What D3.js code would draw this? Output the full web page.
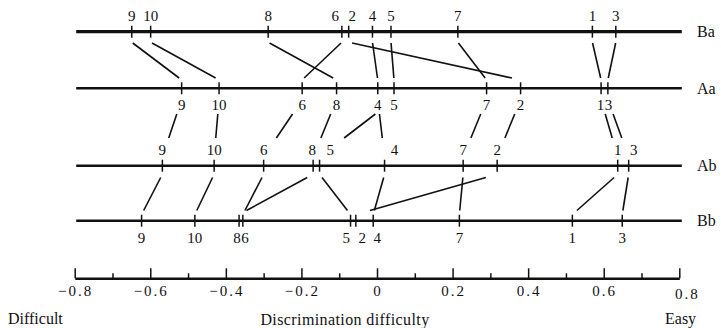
<!DOCTYPE html>
<html>
<head>
<meta charset="utf-8">
<script src="https://cdn.jsdelivr.net/npm/d3@7/dist/d3.min.js"></script>
<style>
  html, body { margin: 0; padding: 0; background: #fff; }
  svg { display: block; }
</style>
</head>
<body>
<svg id="chart" width="721" height="328"></svg>
<script>
// ---------------- data ----------------
const items = [1, 2, 3, 4, 5, 6, 7, 8, 9, 10];
const rowNames = ["Ba", "Aa", "Ab", "Bb"];
const ba = [0.570, -0.075, 0.632, -0.012, 0.037, -0.093, 0.214, -0.288, -0.649, -0.599];
const aa = [0.593, 0.380, 0.611, 0.002, 0.045, -0.198, 0.290, -0.107, -0.517, -0.418];
const ab = [0.637, 0.318, 0.666, 0.020, -0.152, -0.300, 0.228, -0.169, -0.568, -0.431];
const bb = [0.517, -0.056, 0.649, -0.010, -0.070, -0.355, 0.218, -0.365, -0.623, -0.482];
const majorTicks = [-0.8, -0.6, -0.4, -0.2, 0, 0.2, 0.4, 0.6, 0.8];
const minorTicks = [-0.7, -0.5, -0.3, -0.1, 0.1, 0.3, 0.5, 0.7];
const axisTitle = "Discrimination difficulty";
const leftLabel = "Difficult";
const rightLabel = "Easy";

// ---------------- layout ----------------
const FONT = "Liberation Serif";
const rowValues = { Ba: ba, Aa: aa, Ab: ab, Bb: bb };
const layout = {
  rows: {
    Ba: { y: 31.7, labelDy: -11, width: 3.2 },
    Aa: { y: 88.3, labelDy: 21.7, width: 2.6 },
    Ab: { y: 165.7, labelDy: -10.7, width: 2.6 },
    Bb: { y: 220.7, labelDy: 22.3, width: 2.6 }
  },
  gaps: [
    { from: "Ba", to: "Aa", y0: 43, y1: 78, a: 0.02, b: 0.95 },
    { from: "Aa", to: "Ab", y0: 114, y1: 138, a: 0.25, b: 0.67 },
    { from: "Ab", to: "Bb", y0: 177.5, y1: 210.5, a: 0.08, b: 0.9 }
  ],
  labelShift: { Ba: { 6: -6, 2: 3 }, Ab: { 5: 10, 4: 10, 3: 5 }, Bb: { 5: -3, 2: 5, 4: 4 } },
  axisY: 278.3
};

const svg = d3.select("#chart");
const x = d3.scaleLinear().domain([-0.8, 0.8]).range([74.7, 679.3]);
const ink = "#111";

// connecting segments
layout.gaps.forEach(g => {
  const up = rowValues[g.from], lo = rowValues[g.to];
  svg.append("g").selectAll("line").data(items).join("line")
    .attr("x1", (d, i) => { const xu = x(up[i]), xl = x(lo[i]); return xu + (xl - xu) * g.a; })
    .attr("x2", (d, i) => { const xu = x(up[i]), xl = x(lo[i]); return xu + (xl - xu) * g.b; })
    .attr("y1", g.y0).attr("y2", g.y1)
    .attr("stroke", ink).attr("stroke-width", 1.6);
});

// rows
rowNames.forEach(name => {
  const r = layout.rows[name];
  const vals = rowValues[name];
  const g = svg.append("g");
  g.append("line")
    .attr("x1", x(-0.8) + 1.5).attr("x2", x(0.8) + 2.5)
    .attr("y1", r.y).attr("y2", r.y)
    .attr("stroke", ink).attr("stroke-width", r.width);
  g.selectAll("line.tk").data(items).join("line").attr("class", "tk")
    .attr("x1", (d, i) => x(vals[i])).attr("x2", (d, i) => x(vals[i]))
    .attr("y1", r.y - 6).attr("y2", r.y + 6)
    .attr("stroke", ink).attr("stroke-width", 1.5);

  // label placement with simple dodge
  const lab = items.map((d, i) => ({ item: d, px: x(vals[i]) })).sort((p, q) => p.px - q.px);
  const minSep = 8;
  for (let iter = 0; iter < 20; iter++) {
    for (let k = 1; k < lab.length; k++) {
      const gap = lab[k].px - lab[k - 1].px;
      if (gap < minSep) {
        const push = (minSep - gap) / 2;
        lab[k - 1].px -= push; lab[k].px += push;
      }
    }
  }
  const shifts = layout.labelShift[name] || {};
  g.selectAll("text.lb").data(lab).join("text").attr("class", "lb")
    .attr("x", d => d.px + (shifts[d.item] || 0))
    .attr("y", r.y + r.labelDy)
    .attr("text-anchor", "middle")
    .attr("font-family", FONT)
    .attr("font-size", 15)
    .attr("fill", ink)
    .text(d => d.item);

  g.append("text")
    .attr("x", 697).attr("y", r.y + 5.5)
    .attr("font-family", FONT)
    .attr("font-size", 16)
    .attr("fill", ink)
    .text(name);
});

// axis
const ax = svg.append("g").attr("transform", `translate(0,${layout.axisY})`);
ax.call(d3.axisTop(x).tickValues(majorTicks).tickSize(10).tickSizeOuter(0).tickFormat(""));
ax.select(".domain").attr("stroke", ink).attr("stroke-width", 2.6);
ax.selectAll(".tick line").attr("stroke", ink).attr("stroke-width", 1.5);
const axm = svg.append("g").attr("transform", `translate(0,${layout.axisY})`);
axm.call(d3.axisTop(x).tickValues(minorTicks).tickSize(5).tickFormat(""));
axm.select(".domain").remove();
axm.selectAll(".tick line").attr("stroke", ink).attr("stroke-width", 1.5);

const fmt = v => v === 0 ? "0" : d3.format(".1f")(v);
svg.append("g").selectAll("text").data(majorTicks).join("text")
  .attr("x", (d, i) => x(d) + (i === majorTicks.length - 1 ? 7 : 0) + 1)
  .attr("y", (d, i) => i === majorTicks.length - 1 ? 299 : 296)
  .attr("text-anchor", "middle")
  .attr("font-family", FONT)
  .attr("font-size", 15)
  .attr("letter-spacing", 2)
  .attr("fill", ink)
  .text(fmt);

svg.append("text").attr("x", 8).attr("y", 324).attr("font-family", FONT).attr("font-size", 16).attr("fill", ink).text(leftLabel);
svg.append("text").attr("x", 345).attr("y", 325).attr("text-anchor", "middle").attr("font-family", FONT)
  .attr("font-size", 16).attr("letter-spacing", 0.4).attr("fill", ink).text(axisTitle);
svg.append("text").attr("x", 665).attr("y", 324).attr("font-family", FONT).attr("font-size", 16).attr("fill", ink).text(rightLabel);
</script>
</body>
</html>
